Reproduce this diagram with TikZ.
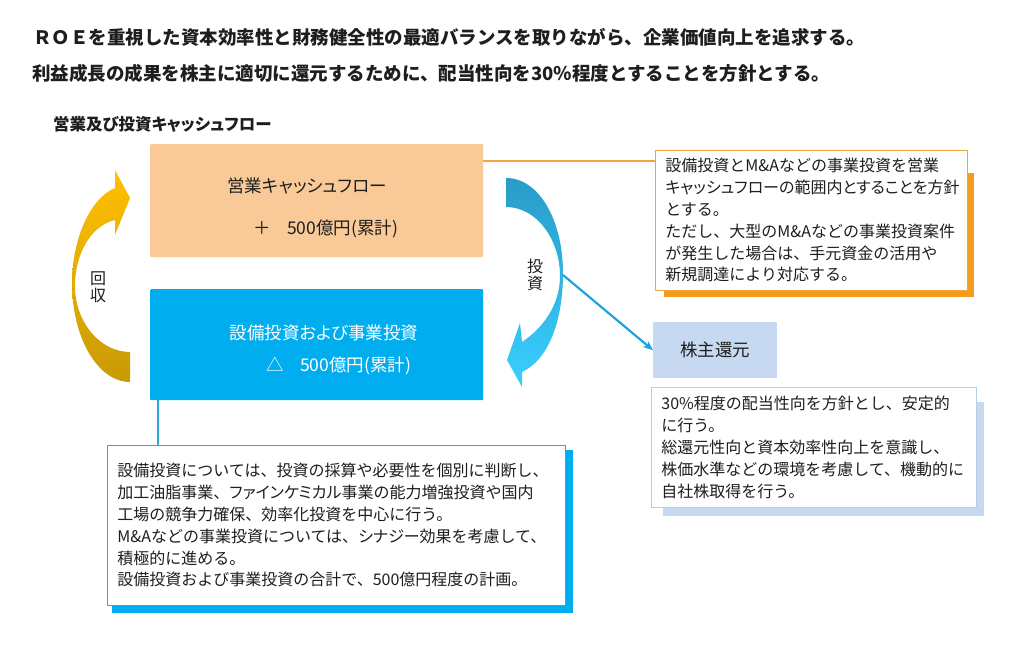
\documentclass[tikz,border=0pt]{standalone}
\usepackage{fontspec}
\setmainfont{Noto Sans CJK JP}
\newfontfamily\proptext[RawFeature=+palt]{Noto Sans CJK JP}
\newcommand\kata[1]{{\proptext #1}}
\usetikzlibrary{arrows.meta,backgrounds}
\definecolor{ink}{HTML}{1E1E1E}
\definecolor{peach}{HTML}{FAC998}
\definecolor{peachline}{HTML}{EFA640}
\definecolor{peachshadow}{HTML}{F59B1D}
\definecolor{capexblue}{HTML}{00AEEF}
\definecolor{capexline}{HTML}{2DA8D8}
\definecolor{paleblue}{HTML}{C6D9F1}
\definecolor{paleline}{HTML}{B9CDE6}
\definecolor{linkblue}{HTML}{1FA3DE}
\definecolor{goldtop}{HTML}{FFC000}
\definecolor{goldbot}{HTML}{C99A06}
\definecolor{bluetop}{HTML}{2A9CC8}
\definecolor{bluebot}{HTML}{38CFFF}
\tikzset{
	flowbox/.style={anchor=north west,inner sep=0pt,rounded corners=1pt},
	flowlabel/.style={inner sep=0pt,font=\proptext\fontsize{17.5}{20}\selectfont},
	notebox/.style={draw,fill=white,line width=.8pt,anchor=north west,
		inner xsep=10pt,inner ysep=0pt,align=left,text=ink,
		font=\fontsize{16}{21.8}\selectfont},
	headline/.style={anchor=west,inner sep=0pt,text=ink,
		font=\bfseries\fontsize{18.5}{20}\selectfont},
}
\begin{document}
\begin{tikzpicture}[x=1pt,y=-1pt]
	\useasboundingbox (0,0) rectangle (1026,650);
	\path
	(150,144) coordinate (OP)
	(150,289) coordinate (CX)
	(655,150) coordinate (N1)
	(653,322) coordinate (SR)
	(651,387) coordinate (N2)
	(107,445) coordinate (N3);
	% 見出し
	\node[headline] (title1) at (33,37) {ＲＯＥを重視した資本効率性と財務健全性の最適バランスを取りながら、企業価値向上を追求する。};
	\node[headline] (title2) at (32,73) {利益成長の成果を株主に適切に還元するために、配当性向を30％程度とすることを方針とする。};
	\node[anchor=west,inner sep=0pt,text=ink,font=\proptext\bfseries\fontsize{16.5}{18}\selectfont] (sub) at (53,124) {営業及び投資キャッシュフロー};
	% 営業CF と 投資
	\node[flowbox,fill=peach,minimum width=333pt,minimum height=113pt] (op) at (OP) {};
	\node[flowlabel,text=ink] (opname) at (307,186) {営業キャッシュフロー};
	\node[flowlabel,text=ink] (opval) at (326,229) {＋\hspace{.9em}500億円(累計)};
	\node[flowbox,fill=capexblue,minimum width=333pt,minimum height=111pt] (capex) at (CX) {};
	\node[flowlabel,text=white] (capexname) at (324,333) {設備投資および事業投資};
	\node[flowlabel,text=white] (capexval) at (339,366) {△\hspace{.9em}500億円(累計)};
	% 回収・投資の矢印
	\shade[top color=goldtop,bottom color=goldbot]
	(130,382) .. controls (98,382) and (72,338) .. (72,283)
	.. controls (72,240) and (90,198) .. (115,188)
	-- (115,170) -- (130,198) -- (115,235) -- (115,220)
	.. controls (90,226) and (75,255) .. (75,286)
	.. controls (75,322) and (100,352) .. (130,352) -- cycle;
	\shade[top color=bluetop,bottom color=bluebot]
	(506,178) .. controls (540,178) and (563,222) .. (563,273)
	.. controls (563,322) and (548,360) .. (522,372)
	-- (522,387) -- (507,360) -- (520,323) -- (522,342)
	.. controls (543,328) and (560,305) .. (560,276)
	.. controls (560,240) and (537,207) .. (506,207) -- cycle;
	\node[align=center,inner sep=0pt,text=ink,font=\fontsize{16}{17.5}\selectfont] (recover) at (98,287) {回\\収};
	\node[align=center,inner sep=0pt,text=ink,font=\fontsize{16}{17.5}\selectfont] (invest) at (535,275) {投\\資};
	\coordinate (bend) at (563,275);
	% 注記
	\node[notebox,draw=peachline,text width=292pt,minimum height=140pt] (note1) at (N1) {設備投資とM\&Aなどの事業投資を営業\\\kata{キャッシュフローの範囲内とすることを方針}\\とする。\\ただし、大型のM\&Aなどの事業投資案件\\が発生した場合は、手元資金の活用や\\新規調達により対応する。};
	\node[flowbox,fill=paleblue,minimum width=124pt,minimum height=56pt,rounded corners=0pt] (return) at (SR) {};
	\node[flowlabel,text=ink] (returnname) at (return.center) {株主還元};
	\node[notebox,draw=paleline,text width=305pt,minimum height=120pt] (note2) at (N2) {30\%程度の配当性向を方針とし、安定的\\に行う。\\総還元性向と資本効率性向上を意識し、\\株価水準などの環境を考慮して、機動的に\\自社株取得を行う。};
	\node[notebox,draw=capexline,text width=438pt,minimum height=160pt] (note3) at (N3) {設備投資については、投資の採算や必要性を個別に判断し、\\加工油脂事業、\kata{ファインケミカル}事業の能力増強投資や国内\\工場の競争力確保、効率化投資を中心に行う。\\M\&Aなどの事業投資については、\kata{シナジー}効果を考慮して、\\積極的に進める。\\設備投資および事業投資の合計で、500億円程度の計画。};
	\begin{scope}[on background layer]
		\fill[peachshadow] ([shift={(9,23)}]note1.north west) rectangle ([shift={(6,6)}]note1.south east);
		\fill[paleblue] ([shift={(12,15)}]note2.north west) rectangle ([shift={(7,8)}]note2.south east);
		\fill[capexblue] ([shift={(5,5)}]note3.north west) rectangle ([shift={(7,7)}]note3.south east);
	\end{scope}
	% 接続線
	\coordinate (oplink) at ([yshift=-17pt]op.north east);
	\draw[peachline,line width=1.6pt] (oplink) -- (oplink -| note1.west);
	\coordinate (capexlink) at ([xshift=8pt]capex.south west);
	\draw[capexline,line width=1.6pt] (capexlink) -- (capexlink |- note3.north);
	\draw[linkblue,line width=2.2pt,-{Stealth[length=10pt,width=8pt]}] (bend) -- (return.west);
\end{tikzpicture}
\end{document}
